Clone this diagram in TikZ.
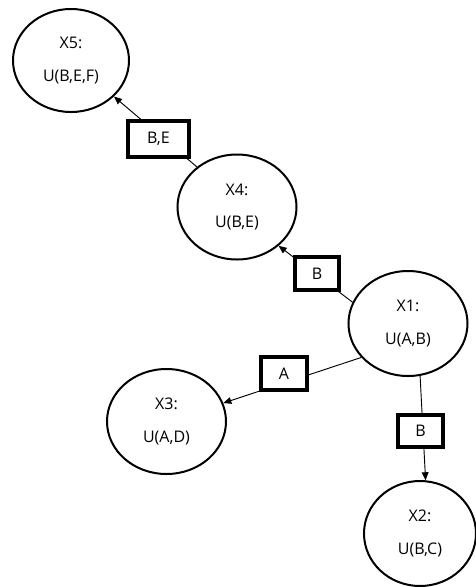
\documentclass[tikz,border=0pt]{standalone}
\usepackage{fontspec}
\setmainfont{Open Sans}
\usetikzlibrary{arrows.meta,shapes.geometric}
\begin{document}
\begin{tikzpicture}[x=0.75pt,y=-0.75pt,
  state/.style={ellipse,draw,line width=1.5pt,fill=white,inner sep=0pt,align=center,
    text=black,font=\fontsize{12}{14.5}\selectfont},
  lbl/.style={rectangle,draw,line width=3pt,fill=white,inner sep=0pt,
    text=black,font=\fontsize{12}{14.5}\selectfont},
  conn/.style={line width=0.7pt},
  arr/.style={conn,-{Triangle[length=6pt,width=5pt]}}]
\useasboundingbox (0,0) rectangle (476,587);
% states
\node[state,minimum width=116*0.75pt,minimum height=103*0.75pt] (X5) at (71,60.5) {X5:\\[10pt]U(B,E,F)};
\node[state,minimum width=119*0.75pt,minimum height=105*0.75pt] (X4) at (237,207) {X4:\\[10pt]U(B,E)};
\node[state,minimum width=119*0.75pt,minimum height=105*0.75pt] (X1) at (408,323.5) {X1:\\[10pt]U(A,B)};
\node[state,minimum width=119*0.75pt,minimum height=105*0.75pt] (X3) at (166.5,421.5) {X3:\\[10pt]U(A,D)};
\node[state,minimum width=112*0.75pt,minimum height=105*0.75pt] (X2) at (420,533.5) {X2:\\[10pt]U(B,C)};
% connectors
\draw[arr] (X4.135) -- (X5.-40);
\draw[arr] (X1.159) -- (X4.-43);
\draw[arr] (X1.216) -- (X3.18);
\draw[arr] (X1.-77) -- (X2.84);
% edge labels
\node[lbl,minimum width=61*0.75pt,minimum height=36*0.75pt] (eBE) at (158.5,139) {B,E};
\node[lbl,minimum width=44*0.75pt,minimum height=33*0.75pt] (eB1) at (317,273.5) {B};
\node[lbl,minimum width=46*0.75pt,minimum height=33*0.75pt] (eA) at (284,373.5) {A};
\node[lbl,minimum width=45*0.75pt,minimum height=32*0.75pt] (eB2) at (420.5,431) {B};
\end{tikzpicture}
\end{document}
